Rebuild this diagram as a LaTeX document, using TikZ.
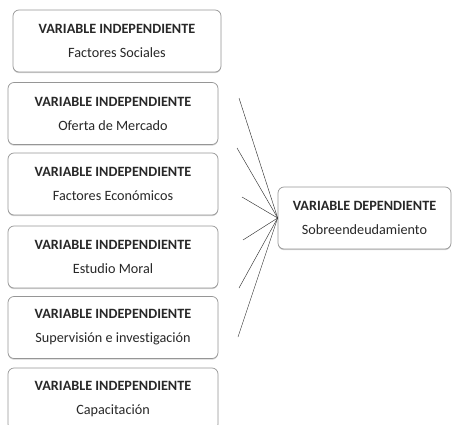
\documentclass[tikz,border=0pt]{standalone}
\usepackage{fontspec}
\setmainfont{Carlito}[Ligatures=NoCommon]
\usetikzlibrary{shadows}
\definecolor{boxborder}{RGB}{150,150,150}
\definecolor{txt}{RGB}{40,40,40}
\tikzset{
  varbox/.style={draw=boxborder, line width=0.7pt, rounded corners=6pt, fill=white,
    minimum width=210pt, minimum height=62pt, inner sep=0pt, align=center,
    font=\fontsize{14.2}{24}\selectfont, text=txt,
    drop shadow={shadow xshift=0pt, shadow yshift=-1.2pt, opacity=0.35, fill=gray}},
  link/.style={draw=black!80, line width=0.45pt}
}
\newcommand{\vtitle}[1]{\textbf{#1}}
\begin{document}
\begin{tikzpicture}[x=1pt,y=-1pt]
\path[use as bounding box] (0,0) rectangle (452,425);
\begin{scope}
\clip (0,0) rectangle (452,425);
\node[varbox, minimum width=208pt] (b1) at (117,41) {\vtitle{VARIABLE INDEPENDIENTE}\\Factores Sociales};
\node[varbox] (b2) at (113,113.5) {\vtitle{VARIABLE INDEPENDIENTE}\\Oferta de Mercado};
\node[varbox] (b3) at (113,184) {\vtitle{VARIABLE INDEPENDIENTE}\\Factores Económicos};
\node[varbox] (b4) at (113,257) {\vtitle{VARIABLE INDEPENDIENTE}\\Estudio Moral};
\node[varbox] (b5) at (113,327.5) {\vtitle{VARIABLE INDEPENDIENTE}\\Supervisión e investigación};
\node[varbox] (b6) at (113,399) {\vtitle{VARIABLE INDEPENDIENTE}\\Capacitación};
\node[varbox, minimum width=173pt, minimum height=62pt] (dep) at (364.5,218) {\vtitle{VARIABLE DEPENDIENTE}\\Sobreendeudamiento};
\end{scope}
\coordinate (s1) at (239,98);
\coordinate (s2) at (237,148);
\coordinate (s3) at (242,197);
\coordinate (s4) at (243,240);
\coordinate (s5) at (239,288);
\coordinate (s6) at (238,337);
\foreach \s in {s1,s2,s3,s4,s5,s6}
  \draw[link] (\s) -- (dep.west);
\end{tikzpicture}
\end{document}
